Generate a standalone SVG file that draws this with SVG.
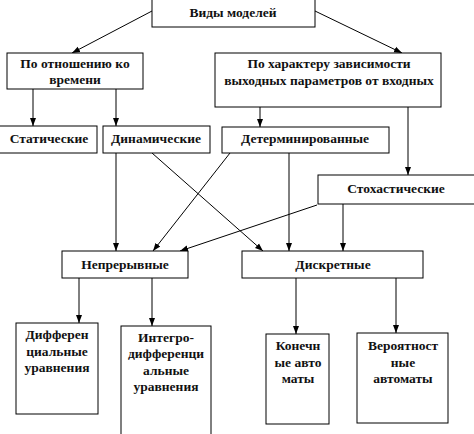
<svg xmlns="http://www.w3.org/2000/svg" width="474" height="434" viewBox="0 0 474 434">
<style>
.box{fill:#fff;stroke:#000;stroke-width:1}
text{font-family:"Liberation Serif","Times New Roman",serif;font-size:13.5px;font-weight:bold;fill:#111;text-anchor:middle}
.c line{stroke:#000;stroke-width:1;marker-end:url(#ah)}
</style>
<defs>
<marker id="ah" viewBox="0 0 8 8" refX="8" refY="4" markerWidth="8" markerHeight="8" markerUnits="userSpaceOnUse" orient="auto">
<path d="M0,1 L8,4 L0,7 Z" fill="#000"/>
</marker>
</defs>
<rect width="474" height="434" fill="#fff"/>
<g class="c" id="connectors">
<line x1="152" y1="11" x2="72" y2="53"/>
<line x1="315" y1="11" x2="402" y2="53"/>
<line x1="33" y1="89" x2="33" y2="126"/>
<line x1="116" y1="89" x2="116" y2="126"/>
<line x1="260" y1="107" x2="260" y2="127"/>
<line x1="408" y1="107" x2="408" y2="175"/>
<line x1="116" y1="153" x2="116" y2="251"/>
<line x1="152" y1="153" x2="263" y2="251"/>
<line x1="230" y1="153" x2="153" y2="251"/>
<line x1="289" y1="153" x2="289" y2="251"/>
<line x1="317" y1="205" x2="180" y2="251"/>
<line x1="343" y1="204" x2="343" y2="251"/>
<line x1="79" y1="278" x2="79" y2="323"/>
<line x1="152" y1="278" x2="152" y2="326"/>
<line x1="296" y1="278" x2="296" y2="334"/>
<line x1="396" y1="278" x2="396" y2="333"/>
</g>
<g id="n-vidy"><rect class="box" x="152" y="-1" width="163" height="28"/><text x="233" y="17">Виды моделей</text></g>
<g id="n-vremya"><rect class="box" x="7" y="53" width="136" height="36"/><text x="75" y="68">По отношению ко</text><text x="75" y="84">времени</text></g>
<g id="n-harakter"><rect class="box" x="215" y="53" width="226" height="54"/><text x="329" y="68">По характеру зависимости</text><text x="329" y="85">выходных параметров от входных</text></g>
<g id="n-stat"><rect class="box" x="-1" y="126" width="98" height="27"/><text x="49" y="143">Статические</text></g>
<g id="n-din"><rect class="box" x="103" y="126" width="107" height="27"/><text x="156" y="143">Динамические</text></g>
<g id="n-det"><rect class="box" x="222" y="127" width="167" height="26"/><text x="305" y="143">Детерминированные</text></g>
<g id="n-stoh"><rect class="box" x="318" y="175" width="160" height="29"/><text x="396" y="193">Стохастические</text></g>
<g id="n-nepr"><rect class="box" x="62" y="251" width="126" height="27"/><text x="125" y="269">Непрерывные</text></g>
<g id="n-diskr"><rect class="box" x="242" y="251" width="181" height="27"/><text x="333" y="269">Дискретные</text></g>
<g id="n-dif"><rect class="box" x="16" y="323" width="82" height="91"/><text x="57" y="339">Дифферен</text><text x="57" y="356">циальные</text><text x="57" y="372">уравнения</text></g>
<g id="n-int"><rect class="box" x="121" y="326" width="90" height="112"/><text x="166" y="342">Интегро-</text><text x="166" y="358">дифференци</text><text x="166" y="375">альные</text><text x="166" y="391">уравнения</text></g>
<g id="n-kon"><rect class="box" x="266" y="334" width="63" height="90"/><text x="298" y="350">Конечн</text><text x="298" y="367">ые авто</text><text x="298" y="383">маты</text></g>
<g id="n-ver"><rect class="box" x="357" y="333" width="91" height="90"/><text x="403" y="350">Вероятност</text><text x="403" y="367">ные</text><text x="403" y="383">автоматы</text></g>
</svg>
